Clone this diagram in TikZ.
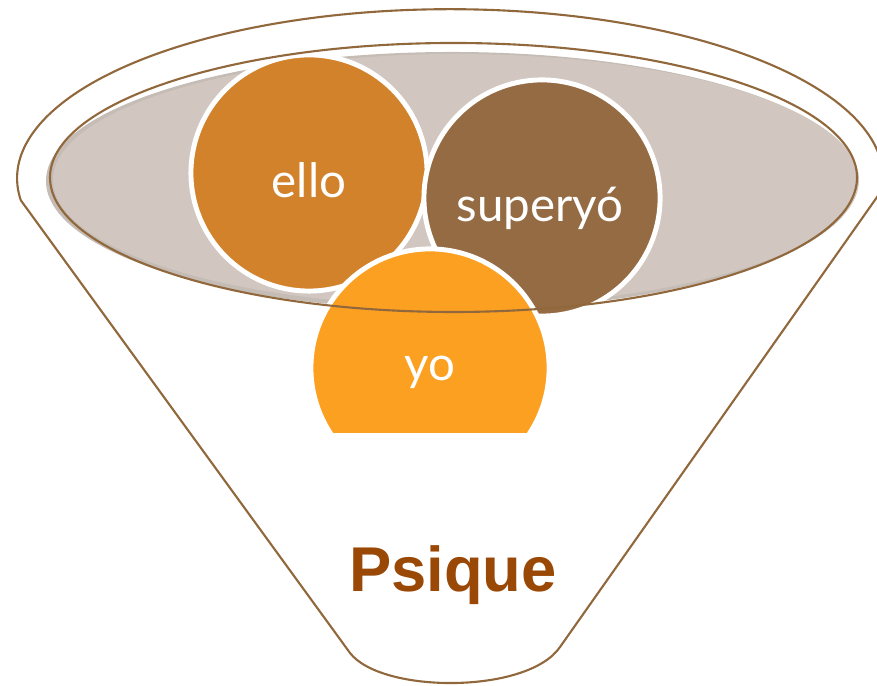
\documentclass[tikz,border=0pt]{standalone}
\usepackage{fontspec}
\usetikzlibrary{positioning,shapes}
\newfontfamily\partfont{Lato}
\newfontfamily\psiquefont{Liberation Sans}
\definecolor{funnelline}{RGB}{145,104,60}
\definecolor{bowlgray}{RGB}{209,199,192}
\definecolor{ellocol}{RGB}{210,130,42}
\definecolor{supercol}{RGB}{149,107,67}
\definecolor{yocol}{RGB}{251,160,32}
\definecolor{psiquecol}{RGB}{153,72,6}

\begin{document}
\begin{tikzpicture}[x=0.01cm,y=0.01cm,
  part/.style={circle,draw=white,line width=1.4pt,minimum size=2.36cm,inner sep=0pt},
  partlabel/.style={text=white,font=\partfont\fontsize{13.5}{15}\selectfont}]
\useasboundingbox (0,0) rectangle (877,686);
\coordinate (rtop) at (882,496);
\coordinate (ltop) at (21,486);
\coordinate (lbot) at (350,33);
\coordinate (rbot) at (560,39);
\draw [funnelline,line width=0.6pt] (rtop) arc [start angle=-4,end angle=187.5,x radius=433,y radius=169]
  -- (lbot) .. controls (382,-8) and (528,-8) .. (rbot) -- cycle;
\fill [bowlgray!85!gray] (452,505) ellipse [x radius=406,y radius=129];
\fill [bowlgray] (456,506) ellipse [x radius=403,y radius=126];
\node at (309,513) [part,fill=ellocol] (ello) {};
\node at (309,506) [partlabel] (ellotext) {ello};
\node at (542,488) [part,fill=supercol] (super) {};
\node at (540,478) [partlabel] (supertext) {superyó};
\begin{scope}
\clip (0,253) rectangle (877,686);
\node at (430,318) [part,fill=yocol,minimum size=2.38cm] (yo) {};
\end{scope}
\node at (430,314) [partlabel] (yotext) {yo};
\draw [funnelline,line width=0.6pt] (453.5,508.5) ellipse [x radius=403.5,y radius=134.5];
\node at (453,111) [text=psiquecol,font=\psiquefont\bfseries\fontsize{18}{20}\selectfont] (psique) {Psique};
\end{tikzpicture}
\end{document}
